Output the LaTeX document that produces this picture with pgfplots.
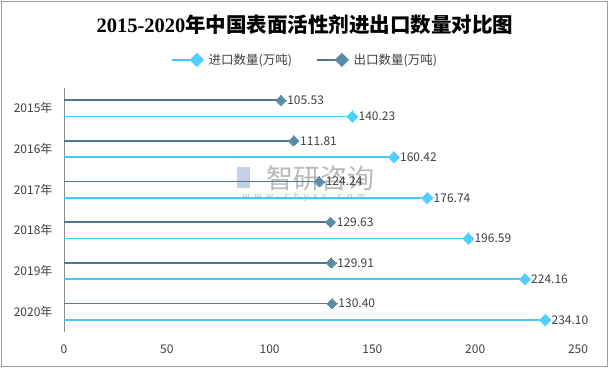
\documentclass[border=0pt]{standalone}
\usepackage{pgfplots}
\pgfplotsset{compat=1.18}
\usepackage{fontspec}
\setmainfont{Noto Sans CJK SC}
\newfontfamily\titlelat{Liberation Serif}
\definecolor{impline}{HTML}{45C8F5}
\definecolor{impmark}{HTML}{52CFFF}
\definecolor{expline}{HTML}{4E7894}
\definecolor{expmark}{HTML}{5B8CA6}
\definecolor{txt}{HTML}{404040}
\definecolor{wm}{HTML}{B8B8B8}
\definecolor{wmlogo}{HTML}{C2D2E4}
\begin{document}
\begin{tikzpicture}[x=1pt,y=1pt]
\useasboundingbox (0,0) rectangle (610,369);
\draw[gray!75, line width=1.2pt] (1.5,2.5) rectangle (607.5,367.5);
\node[font=\bfseries\fontsize{20.5}{22}\selectfont, text=black] at (305,344) {{\titlelat\bfseries 2015-2020}年中国表面活性剂进出口数量对比图};
% watermark
\node[font=\fontsize{27}{28}\selectfont, text=wm] at (320,191) {智研咨询};
\node[font=\fontsize{9}{10}\selectfont, text=wm] at (304,172) {w\,\,\,w\,\,\,w\,\,\,.\,\,\,c\,\,\,h\,\,\,y\,\,\,x\,\,\,x\,\,\,.\,\,\,c\,\,\,o\,\,\,m};
\fill[wmlogo] (237,181) rectangle (250,202);
\begin{axis}[
  at={(64pt,37pt)}, anchor=south west,
  scale only axis, width=514pt, height=244pt,
  xmin=0, xmax=250, ymin=-0.5, ymax=5.5,
  y dir=reverse,
  xtick={0,50,...,250},
  ytick={0,1,2,3,4,5},
  yticklabels={2015年,2016年,2017年,2018年,2019年,2020年},
  axis x line*=bottom, axis y line*=left,
  x axis line style={draw=none},
  y axis line style={draw=gray!90, line width=0.8pt},
  major tick length=0pt,
  tick label style={font=\fontsize{12}{13}\selectfont, text=txt},
  xticklabel style={yshift=-9pt},
  yticklabel style={xshift=-8pt},
  /pgf/number format/assume math mode=true,
  clip=false,
  point meta=x,
  nodes near coords={\pgfmathprintnumber[fixed,fixed zerofill,precision=2,assume math mode=true]{\pgfplotspointmeta}},
  every node near coord/.append style={anchor=west, xshift=3pt, font=\fontsize{12}{13}\selectfont, text=txt},
  legend style={at={(0.469,1.115)}, anchor=center, draw=none, fill=none,
    legend columns=2, font=\fontsize{12.5}{13}\selectfont, text=txt,
    /tikz/every even column/.append style={column sep=22pt}},
  legend cell align=left,
]
\addplot[xcomb, draw=impline, line width=1.6pt, mark=square*, mark size=4pt,
  mark options={rotate=45, fill=impmark, draw=impmark, line width=0pt},
  legend image code/.code={\draw[impline, line width=1.6pt] (0pt,0pt) -- (25pt,0pt);
    \fill[impmark] (25pt,0pt) +(-6pt,0pt) -- +(0pt,6pt) -- +(6pt,0pt) -- +(0pt,-6pt) -- cycle;}]
  coordinates {(140.23,0.2) (160.42,1.2) (176.74,2.2) (196.59,3.2) (224.16,4.2) (234.10,5.2)};
\addlegendentry{\hspace{3pt}进口数量(万吨)}
\addplot[xcomb, draw=expline, line width=1.6pt, mark=square*, mark size=3.6pt,
  mark options={rotate=45, fill=expmark, draw=expmark, line width=0pt},
  legend image code/.code={\draw[expline, line width=1.6pt] (0pt,0pt) -- (25pt,0pt);
    \fill[expmark] (25pt,0pt) +(-6pt,0pt) -- +(0pt,6pt) -- +(6pt,0pt) -- +(0pt,-6pt) -- cycle;}]
  coordinates {(105.53,-0.2) (111.81,0.8) (124.24,1.8) (129.63,2.8) (129.91,3.8) (130.40,4.8)};
\addlegendentry{\hspace{3pt}出口数量(万吨)}
\end{axis}
\end{tikzpicture}
\end{document}
